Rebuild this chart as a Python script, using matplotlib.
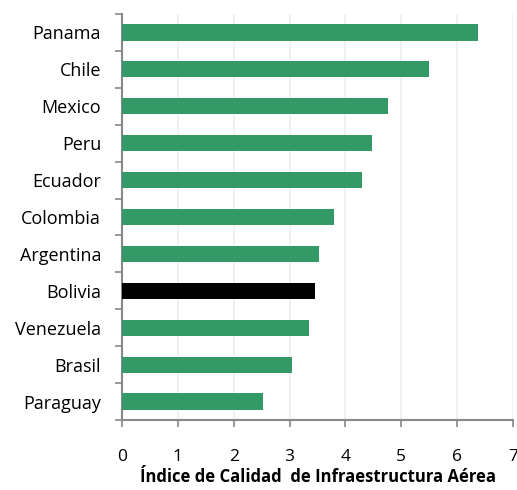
import matplotlib
matplotlib.use("Agg")
import matplotlib.pyplot as plt
import numpy as np

countries = ["Panama", "Chile", "Mexico", "Peru", "Ecuador", "Colombia",
             "Argentina", "Bolivia", "Venezuela", "Brasil", "Paraguay"]
values = [6.38, 5.50, 4.77, 4.47, 4.29, 3.79, 3.52, 3.46, 3.34, 3.05, 2.53]
highlight = "Bolivia"
xticks = [0, 1, 2, 3, 4, 5, 6, 7]
xlabel = "Índice de Calidad  de Infraestructura Aérea"

plt.rcParams['font.family'] = ['Open Sans', 'DejaVu Sans']

fig = plt.figure(figsize=(5.17, 4.90), dpi=100)
ax = fig.add_axes([122/517, 1 - 420/490, (513-122)/517, (420-14)/490])

green = "#339966"
colors = ["black" if c == highlight else green for c in countries]
y = np.arange(len(countries))
ax.barh(y, values, height=0.44, color=colors, zorder=3)

ax.set_ylim(len(countries) - 0.5, -0.5)
ax.set_xlim(0, 7)
ax.set_yticks(y)
ax.set_yticklabels(countries, fontsize=13)
ax.set_yticks(np.arange(-0.5, len(countries), 1), minor=True)
ax.tick_params(axis='y', which='major', length=0, pad=15)
ax.tick_params(axis='y', which='minor', length=5, color='#888888', width=1.2, direction='out')
ax.set_xticks(xticks)
ax.set_xticklabels([str(t) for t in xticks], fontsize=12.5)
ax.tick_params(axis='x', which='major', length=5, color='#888888', width=1.2, pad=16)

ax.grid(axis='x', color='#eeeeee', linewidth=1.2, zorder=0)
for s in ['top', 'right']:
    ax.spines[s].set_visible(False)
for s in ['left', 'bottom']:
    ax.spines[s].set_color('#888888')
    ax.spines[s].set_linewidth(1.5)

ax.set_xlabel(xlabel, fontsize=12, fontweight='bold', labelpad=2)

fig.savefig("out.png", dpi=100)
